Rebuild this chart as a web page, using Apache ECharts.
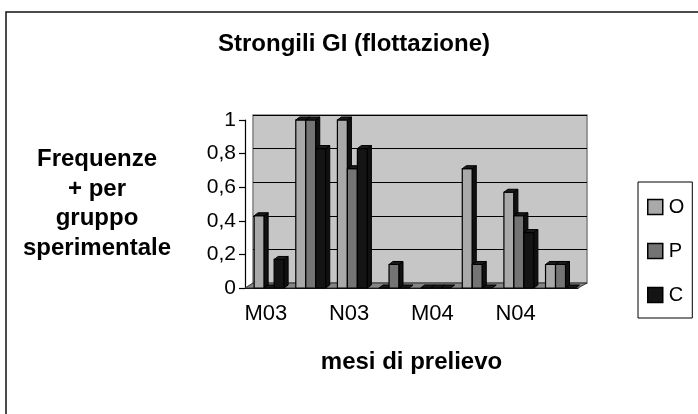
<!DOCTYPE html>
<html><head><meta charset="utf-8">
<script src="https://cdn.jsdelivr.net/npm/echarts@6/dist/echarts.min.js"></script>
<style>html,body{margin:0;padding:0;background:#fff}#c{width:698px;height:414px}</style>
</head><body><div id="c"></div>
<script>
var categories = ['M03', '', 'N03', '', 'M04', '', 'N04', ''];
var seriesO = [0.43, 1, 1, 0, 0, 0.71, 0.57, 0.14];
var seriesP = [0, 1, 0.71, 0.14, 0, 0.14, 0.43, 0.14];
var seriesC = [0.17, 0.83, 0.83, 0, 0, 0, 0.33, 0];
var yTicks = [0, 0.2, 0.4, 0.6, 0.8, 1];
var seriesNames = ['O', 'P', 'C'];

var font = 'Liberation Sans, Arial, sans-serif';
var chart = echarts.init(document.getElementById('c'));
function fmt(v){ return String(v).replace('.', ','); }
var colors = ['#a9a9a9', '#747474', '#141414'];
var data = [seriesO, seriesP, seriesC];
var DX = 4, DY = 3;

function makeRender(idx){
  return function(params, api){
    var cat = api.value(0), val = api.value(1);
    var base = api.coord([cat, 0]);
    var top = api.coord([cat, val]);
    var catW = api.size([1, 0])[0];
    var bw = catW * 0.24;
    var x0 = base[0] - catW / 2 + catW * 0.22 + idx * bw;
    var x1 = x0 + bw;
    var yt = top[1], yb = base[1];
    var children = [];
    if (yb - yt > 0.5) {
      children.push({type: 'rect', shape: {x: x0, y: yt, width: bw, height: yb - yt},
        style: {fill: api.visual('color'), stroke: '#000', lineWidth: 1.2}});
      children.push({type: 'polygon', shape: {points: [[x1, yt], [x1 + DX, yt - DY], [x1 + DX, yb - DY], [x1, yb]]},
        style: {fill: '#111', stroke: '#000', lineWidth: 1}});
    }
    children.push({type: 'polygon', shape: {points: [[x0, yt], [x0 + DX, yt - DY], [x1 + DX, yt - DY], [x1, yt]]},
      style: {fill: '#1a1a1a', stroke: '#000', lineWidth: 1}});
    return {type: 'group', children: children};
  };
}

var series = seriesNames.map(function(n, i){
  return {
    name: n, type: 'custom', xAxisIndex: 0, yAxisIndex: 0, z: 3,
    renderItem: makeRender(i),
    encode: {x: 0, y: 1},
    itemStyle: {color: colors[i]},
    data: data[i].map(function(v, k){ return [k, v]; })
  };
});

chart.setOption({
  backgroundColor: '#fff',
  animation: false,
  title: {text: 'Strongili GI (flottazione)', left: 218, top: 32, padding: 0,
    textStyle: {fontFamily: font, fontSize: 24, fontWeight: 'bold', color: '#000'}},
  legend: {
    orient: 'vertical', left: 638, top: 182, itemGap: 24,
    itemWidth: 15, itemHeight: 15, padding: [15, 8, 13, 9],
    borderColor: '#000', borderWidth: 1,
    textStyle: {fontFamily: font, fontSize: 20, color: '#000', lineHeight: 16, padding: [0, 0, 0, 1]},
    data: seriesNames.map(function(n){ return {name: n, icon: 'rect', itemStyle: {borderColor: '#000', borderWidth: 1.5}}; })
  },
  grid: [
    {left: 245, top: 120, width: 333, height: 168},
    {left: 253, top: 115, width: 334, height: 168, show: true, backgroundColor: '#c6c6c6', borderColor: '#808080', borderWidth: 1.5}
  ],
  xAxis: [
    {type: 'category', gridIndex: 0, data: categories,
     axisLine: {lineStyle: {color: '#000', width: 1.2}}, axisTick: {lineStyle: {color: '#000', width: 1.2}, length: 6, interval: 0},
     axisLabel: {interval: 1, fontFamily: font, fontSize: 22, color: '#000', margin: 15},
     name: 'mesi di prelievo', nameLocation: 'middle', nameGap: 62,
     nameTextStyle: {fontFamily: font, fontSize: 24, fontWeight: 'bold', color: '#000'}},
    {type: 'category', gridIndex: 1, data: categories, show: false}
  ],
  yAxis: [
    {type: 'value', gridIndex: 0, min: 0, max: 1, interval: 0.2,
     axisLine: {show: true, lineStyle: {color: '#000', width: 1.2}}, axisTick: {show: true, length: 6, lineStyle: {color: '#000', width: 1.2}},
     splitLine: {show: false},
     axisLabel: {fontFamily: font, fontSize: 21, color: '#000', margin: 9, formatter: function(v){ return fmt(Math.round(v*10)/10); }},
     name: 'Frequenze\n+ per\ngruppo\nsperimentale', nameLocation: 'middle', nameRotate: 0, nameGap: 148,
     nameTextStyle: {fontFamily: font, fontSize: 24, fontWeight: 'bold', color: '#000', lineHeight: 29.5, align: 'center'}},
    {type: 'value', gridIndex: 1, min: 0, max: 1, interval: 0.2, show: true,
     axisLine: {show: false}, axisTick: {show: false}, axisLabel: {show: false},
     splitLine: {show: true, lineStyle: {color: '#000', width: 1.2}}}
  ],
  graphic: [
    {type: 'polygon', z: 1, silent: true, shape: {points: [[245, 288], [253, 283], [587, 283], [578, 288]]},
     style: {fill: '#858585', stroke: '#333', lineWidth: 1}},
    {type: 'rect', shape: {x: 6, y: 12, width: 720, height: 420}, style: {fill: null, stroke: '#111', lineWidth: 1.5}, silent: true}
  ],
  series: series
});
</script></body></html>
